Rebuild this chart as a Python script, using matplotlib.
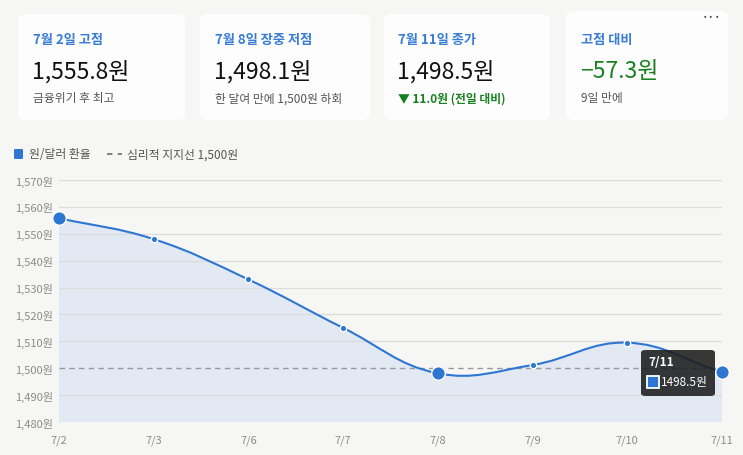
import numpy as np
import matplotlib.pyplot as plt
from matplotlib.path import Path
from matplotlib.patches import PathPatch, FancyBboxPatch, Rectangle
from matplotlib.lines import Line2D

plt.rcParams['font.family'] = ['Noto Sans CJK KR', 'DejaVu Sans']

dates = ['7/2', '7/3', '7/6', '7/7', '7/8', '7/9', '7/10', '7/11']
rates = [1555.8, 1548.0, 1533.0, 1515.0, 1498.1, 1501.2, 1509.5, 1498.5]
y_ticks = [1480, 1490, 1500, 1510, 1520, 1530, 1540, 1550, 1560, 1570]
support = 1500

card_titles = ['7월 2일 고점', '7월 8일 장중 저점', '7월 11일 종가', '고점 대비']
card_values = ['1,555.8원', '1,498.1원', '1,498.5원', '−57.3원']
card_notes = ['금융위기 후 최고', '한 달여 만에 1,500원 하회', '▼ 11.0원 (전일 대비)', '9일 만에']

W, H = 743, 456
BG = '#f6f6f4'
BLUE = '#2d77d2'
GREEN = '#17801f'

fig = plt.figure(figsize=(W / 100, H / 100), dpi=100, facecolor=BG)


def fx(x):
    return x / W


def fy(y):
    return 1 - y / H


# cards
card_x = [18, 200, 384, 566]
card_w = [167, 170, 166, 162]
text_x = [33, 215, 398, 581]
for i in range(4):
    top = 12 if i == 3 else 15
    fig.patches.append(FancyBboxPatch((fx(card_x[i]), fy(121)), card_w[i] / W, (121 - top) / H,
                                      boxstyle='round,pad=0,rounding_size=0.012',
                                      transform=fig.transFigure, fc='#fdfdfd', ec='none'))
    fig.text(fx(text_x[i]), fy(40), card_titles[i], color='#3a7bd5', fontsize=9.5,
             fontweight='bold', va='center')
    fig.text(fx(text_x[i] - 1), fy(72), card_values[i], color=GREEN if i == 3 else '#111111',
             fontsize=16.5, fontweight='medium', va='center')
    fig.text(fx(text_x[i]), fy(99), card_notes[i], color=GREEN if i == 2 else '#555555',
             fontsize=8.5, fontweight='bold' if i == 2 else 'normal', va='center')
fig.text(fx(712), fy(17), '···', color='#444444', fontsize=8, ha='center', va='center',
         fontweight='bold')

# legend
fig.patches.append(FancyBboxPatch((fx(14), fy(160)), 9 / W, 10 / H,
                                  boxstyle='round,pad=0,rounding_size=0.002',
                                  transform=fig.transFigure, fc=BLUE, ec='none'))
fig.text(fx(29), fy(155), '원/달러 환율', color='#555555', fontsize=8.5, va='center')
fig.lines.append(Line2D([fx(107), fx(122)], [fy(155), fy(155)], transform=fig.transFigure,
                        color='#777777', lw=1.3, ls=(0, (3, 3))))
fig.text(fx(127), fy(155), '심리적 지지선 1,500원', color='#555555', fontsize=8.5, va='center')

# chart
ax = fig.add_axes([fx(59), fy(423), (722 - 59) / W, (423 - 181) / H])
ax.set_facecolor('none')
xs = np.arange(len(dates))
ax.set_xlim(0, len(dates) - 1)
ax.set_ylim(y_ticks[0], y_ticks[-1])
for s in ax.spines.values():
    s.set_visible(False)
ax.set_yticks(y_ticks)
ax.set_yticklabels([f'{v:,}원' for v in y_ticks])
ax.set_xticks(xs)
ax.set_xticklabels(dates)
ax.tick_params(length=0, colors='#8c8c8c', labelsize=8)
ax.tick_params(axis='y', pad=4)
ax.tick_params(axis='x', pad=9)
for v in y_ticks:
    if v != support:
        ax.axhline(v, color='#dcdcdc', lw=0.9, zorder=1)

# chart.js style spline (tension 0.4) computed in pixel-like scale
sx, sy = 94.7, 2.69
px = xs * sx
py = np.array(rates) * sy
t = 0.4
cp_prev, cp_next = [], []
for i in range(len(px)):
    a = max(i - 1, 0)
    b = min(i + 1, len(px) - 1)
    d01 = np.hypot(px[i] - px[a], py[i] - py[a])
    d12 = np.hypot(px[b] - px[i], py[b] - py[i])
    tot = d01 + d12 if d01 + d12 > 0 else 1
    fa = t * d01 / tot
    fb = t * d12 / tot
    cp_prev.append((px[i] - fa * (px[b] - px[a]), py[i] - fa * (py[b] - py[a])))
    cp_next.append((px[i] + fb * (px[b] - px[a]), py[i] + fb * (py[b] - py[a])))

verts = [(xs[0], rates[0])]
codes = [Path.MOVETO]
for i in range(len(px) - 1):
    verts += [(cp_next[i][0] / sx, cp_next[i][1] / sy),
              (cp_prev[i + 1][0] / sx, cp_prev[i + 1][1] / sy),
              (xs[i + 1], rates[i + 1])]
    codes += [Path.CURVE4] * 3
line_path = Path(verts, codes)
fill_path = Path(verts + [(xs[-1], y_ticks[0]), (xs[0], y_ticks[0]), (xs[0], rates[0])],
                 codes + [Path.LINETO, Path.LINETO, Path.CLOSEPOLY])
ax.add_patch(PathPatch(fill_path, fc='#dfe7f3', ec='none', alpha=0.85, zorder=0.5))
ax.add_patch(PathPatch(line_path, fc='none', ec=BLUE, lw=1.5, zorder=3))

ax.axhline(support, color='#999999', lw=1, ls=(0, (4, 3)), zorder=2)

big = [0, 4, 7]
small = [i for i in range(len(xs)) if i not in big]
ax.scatter(xs[small], np.array(rates)[small], s=22, color=BLUE, edgecolor='white',
           linewidth=1, zorder=4, clip_on=False)
ax.scatter(xs[big], np.array(rates)[big], s=95, color=BLUE, edgecolor='white',
           linewidth=1, zorder=4, clip_on=False)

# tooltip
fig.patches.append(FancyBboxPatch((fx(641), fy(397)), 74 / W, 46 / H,
                                  boxstyle='round,pad=0,rounding_size=0.006',
                                  transform=fig.transFigure, fc='#1c1c1c', ec='none',
                                  alpha=0.88, zorder=10))
fig.text(fx(648), fy(362), dates[-1], color='white', fontsize=8.5, fontweight='bold',
         va='center', zorder=11)
fig.patches.append(Rectangle((fx(647), fy(389)), 12 / W, 12 / H, transform=fig.transFigure,
                             fc=BLUE, ec='white', lw=1.3, zorder=11))
fig.text(fx(661), fy(383), f'{rates[-1]}원', color='white', fontsize=8.5,
         fontweight='medium', va='center', zorder=11)

fig.savefig('out.png', dpi=100, facecolor=BG)
